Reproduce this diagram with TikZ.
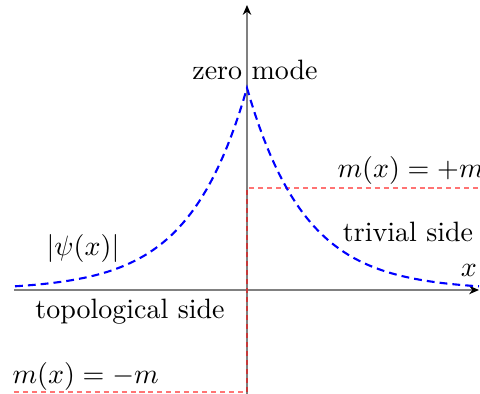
\documentclass[tikz,border=0pt]{standalone}
\usetikzlibrary{arrows.meta}
\begin{document}
\begin{tikzpicture}[x=0.357pt,y=-0.357pt,
  axis/.style={draw=black!50,line width=0.75pt,-{Stealth[length=3.5pt,width=3pt,black]}},
  wave/.style={draw=blue,line width=0.75pt,dash pattern=on 2.8pt off 1.8pt},
  mass/.style={draw=red,draw opacity=0.55,line width=0.75pt,dash pattern=on 1.8pt off 1.4pt},
  lbl/.style={inner sep=0pt,font=\fontsize{10}{12}\selectfont}]
\useasboundingbox (0,0) rectangle (480,394);
% axes
\coordinate (xl) at (14,290);
\coordinate (xr) at (479,290);
\coordinate (yb) at (247,394);
\coordinate (yt) at (247,5);
\draw[axis] (xl) -- (xr);
\draw[axis] (yb) -- (yt);
% mass profile
\coordinate (m1) at (14,392);
\coordinate (m2) at (247,392);
\coordinate (m3) at (247,188);
\coordinate (m4) at (480,188);
\draw[mass] (m1) -- (m2) -- (m3) -- (m4);
% wave function
\draw[wave] plot[domain=-232:232,samples=117] ({247+\x},{290-202*exp(-abs(\x)/58)});
% labels
\node[lbl] (zm) at (255,70) {zero mode};
\node[lbl,anchor=west] (mp) at (337,170) {$m(x) = +m$};
\node[lbl] (triv) at (408,232) {trivial side};
\node[lbl] (xx) at (469,270) {$x$};
\node[lbl] (psi) at (83,248) {$|\psi(x)|$};
\node[lbl] (topo) at (130,312) {topological side};
\node[lbl,anchor=west] (mm) at (12,376) {$m(x) = -m$};
\end{tikzpicture}
\end{document}
